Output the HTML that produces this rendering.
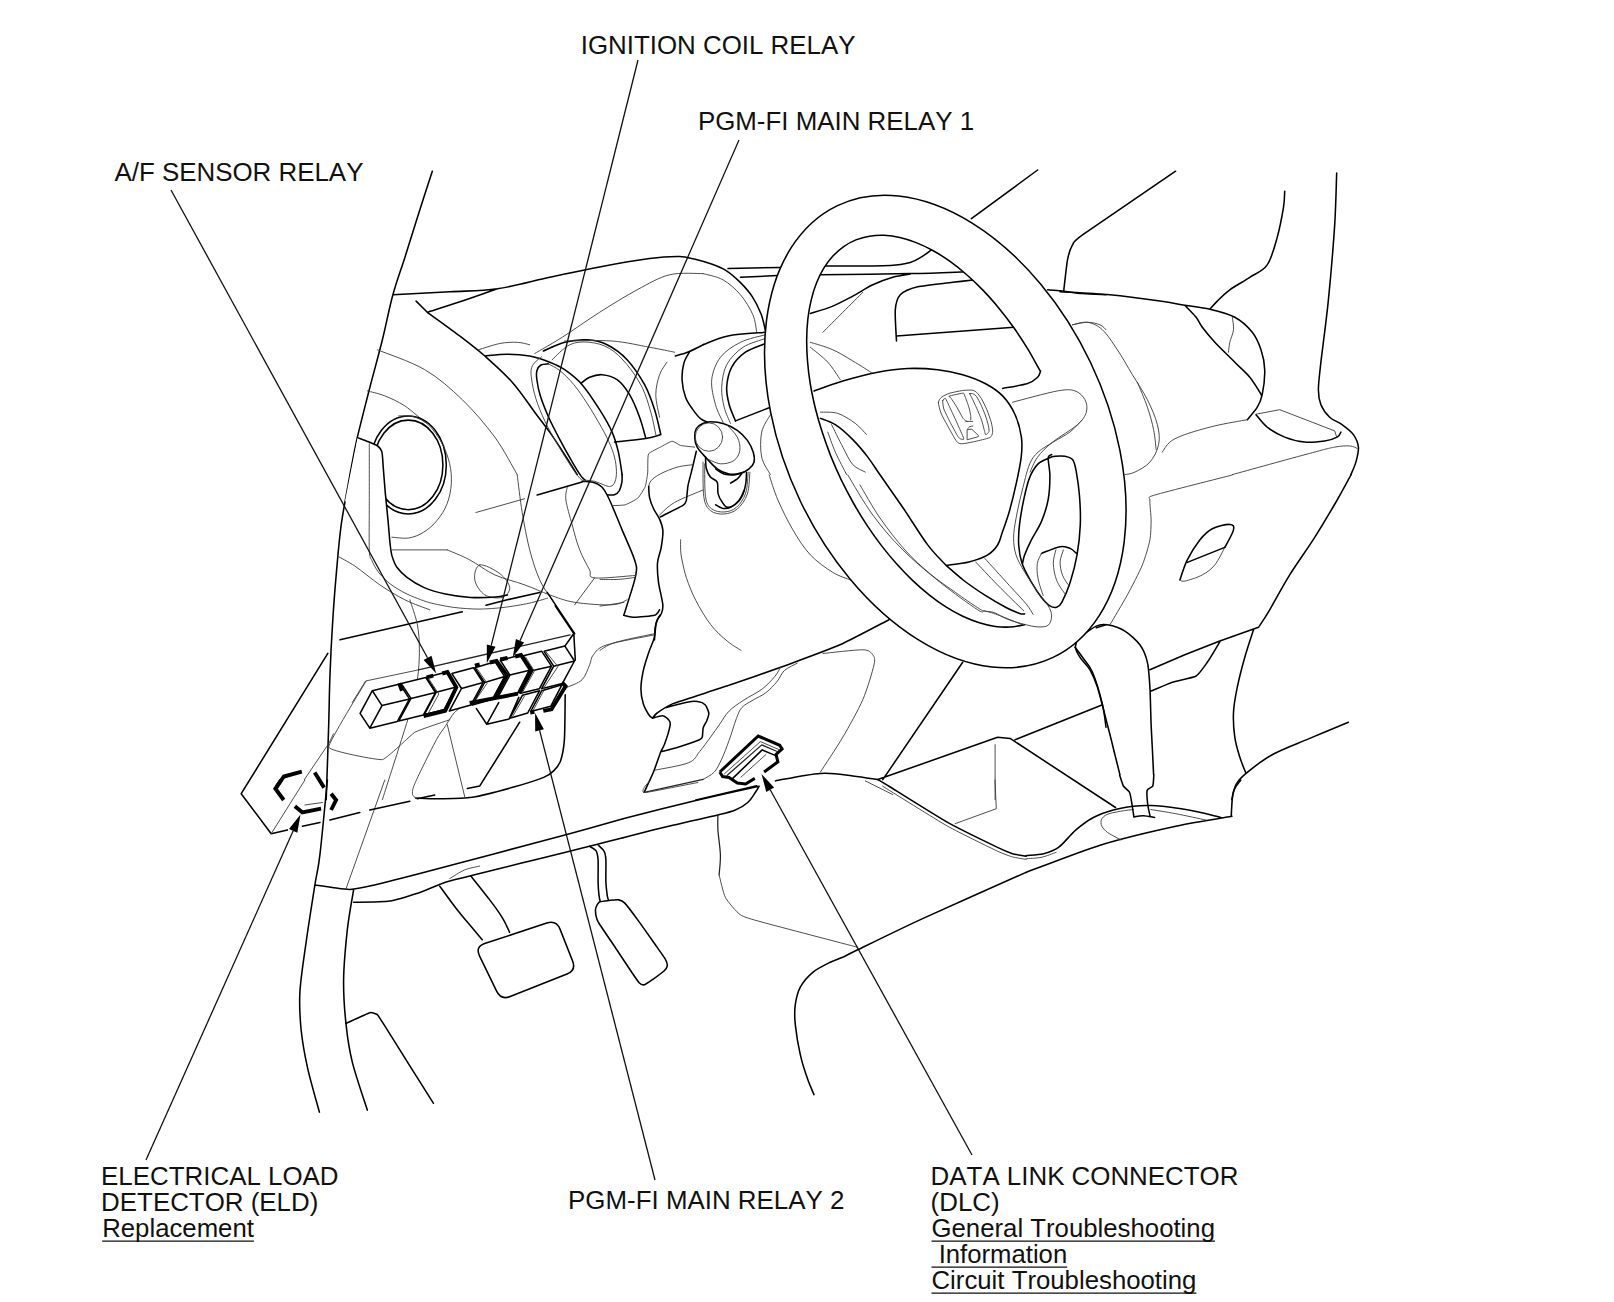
<!DOCTYPE html>
<html><head><meta charset="utf-8">
<style>
html,body{margin:0;padding:0;background:#fff;}
body{width:1614px;height:1302px;overflow:hidden;position:relative;font-family:"Liberation Sans",sans-serif;}
svg{position:absolute;left:0;top:0;}
text{font-family:"Liberation Sans",sans-serif;font-size:25.9px;fill:#111;font-kerning:none;}
.k{fill:none;stroke:#000;stroke-width:1.55;stroke-linecap:round;stroke-linejoin:round;}
.m{fill:none;stroke:#222;stroke-width:1.25;stroke-linecap:round;stroke-linejoin:round;}
.t{fill:none;stroke:#3a3a3a;stroke-width:0.9;stroke-linecap:round;stroke-linejoin:round;}
.l{fill:none;stroke:#111;stroke-width:1.3;}
.b{fill:none;stroke:#000;stroke-width:3.9;stroke-linejoin:miter;}
.c{fill:none;stroke:#000;stroke-width:3;stroke-linejoin:miter;}
.w{fill:#fff;stroke:none;fill-rule:evenodd;}
.a{fill:#000;stroke:none;}
</style></head><body>
<svg width="1614" height="1302" viewBox="0 0 1614 1302">
<rect width="1614" height="1302" fill="#fff"/>
<g id="labels">
<text x="580.7" y="54">IGNITION COIL RELAY</text>
<text x="697.9" y="129.5">PGM-FI MAIN RELAY 1</text>
<text x="114.5" y="180.8">A/F SENSOR RELAY</text>
<text x="101.1" y="1184.6">ELECTRICAL LOAD</text>
<text x="101.1" y="1210.6">DETECTOR (ELD)</text>
<text x="102.2" y="1236.6" textLength="151.7" lengthAdjust="spacingAndGlyphs">Replacement</text>
<text x="568.1" y="1208.7">PGM-FI MAIN RELAY 2</text>
<text x="930.6" y="1184.6">DATA LINK CONNECTOR</text>
<text x="930.6" y="1210.6">(DLC)</text>
<text x="931.5" y="1236.6" textLength="283.5" lengthAdjust="spacingAndGlyphs">General Troubleshooting</text>
<text x="931.5" y="1262.6" textLength="135.7" lengthAdjust="spacingAndGlyphs" xml:space="preserve"> Information</text>
<text x="931.5" y="1288.6" textLength="264.9" lengthAdjust="spacingAndGlyphs">Circuit Troubleshooting</text>
<path d="M102.2 1241.2H253.9M931.5 1241.2H1215M931.5 1267.2H1067.2M931.5 1293.2H1196.4" stroke="#111" stroke-width="1.3" fill="none"/>
</g>
<g class="k">
<path d="M432.3 171.2C429.8 178.9 421.9 203.1 417.4 217.4C412.8 231.8 408.9 244.5 404.9 257.4C400.8 270.3 396.6 281.1 392.9 294.8C389.1 308.6 386.2 324.4 382.4 339.8C378.6 355.2 374.1 371.0 369.9 387.2C365.8 403.4 360.8 422.6 357.4 437.1C354.1 451.7 351.2 468.4 349.9 474.6M392.9 294.8C402.4 294.3 432.4 292.8 449.8 291.8C467.2 290.8 480.6 291.2 497.3 288.8C513.9 286.4 532.6 281.0 549.7 277.3C566.7 273.7 583.0 270.0 599.6 266.9C616.3 263.7 636.3 260.2 649.6 258.5C662.8 256.8 671.8 256.5 679.3 256.6C686.7 256.7 688.9 257.9 694.3 259.1C699.6 260.4 706.1 262.2 711.5 264.1C716.9 266.1 721.7 267.9 726.5 270.8C731.2 273.8 735.6 277.8 740.0 282.1C744.3 286.4 748.9 291.4 752.4 296.8C756.0 302.2 759.0 308.7 761.2 314.3C763.3 319.9 764.7 327.7 765.4 330.4M416.1 301.1L427.3 312.3M427.3 312.3C433.2 310.4 450.6 305.0 462.3 301.1C473.9 297.1 491.4 290.9 497.3 288.8M427.3 312.3C432.8 316.3 450.2 328.7 459.8 336.0C469.4 343.3 476.0 348.3 484.8 356.0C493.5 363.7 503.9 372.8 512.2 382.2C520.6 391.6 528.5 403.8 534.7 412.2C540.9 420.5 544.7 425.1 549.7 432.1C554.7 439.2 560.1 447.5 564.7 454.6C569.2 461.7 575.1 471.3 577.2 474.6M484.8 356.0C488.5 355.7 499.8 354.2 507.2 354.2C514.7 354.2 522.6 354.7 529.7 356.0C536.8 357.3 543.9 359.9 549.7 362.2C555.5 364.5 559.3 366.0 564.7 369.7C570.1 373.5 576.3 378.0 582.1 384.7C588.0 391.4 594.6 401.8 599.6 409.7C604.6 417.6 609.0 425.1 612.1 432.1C615.2 439.2 616.7 445.0 618.4 452.1C620.0 459.2 621.5 470.8 622.1 474.6M543.4 351.0C547.0 349.5 557.4 344.1 564.7 342.3C572.0 340.4 580.1 339.3 587.1 339.8C594.2 340.2 600.5 341.4 607.1 344.8C613.8 348.1 620.8 353.1 627.1 359.7C633.3 366.4 640.0 376.4 644.6 384.7C649.1 393.0 651.9 401.4 654.6 409.7C657.3 418.0 659.8 430.5 660.8 434.6M660.8 434.6C658.3 435.3 653.5 437.1 645.8 438.4C638.1 439.6 619.8 441.5 614.6 442.1M580.9 383.5C582.4 382.4 586.1 378.7 589.6 377.2C593.2 375.8 597.5 374.3 602.1 374.7C606.7 375.1 612.5 376.4 617.1 379.7C621.7 383.0 625.8 388.5 629.6 394.7C633.3 400.9 636.9 409.9 639.6 417.2C642.3 424.4 644.8 434.9 645.8 438.4"/>
</g>
<g class="t">
<path d="M377.4 349.8C385.3 353.1 410.7 361.4 424.8 369.7C439.0 378.0 450.6 388.5 462.3 399.7C473.9 410.9 485.6 424.7 494.8 437.1C503.9 449.6 513.5 468.4 517.2 474.6M367.4 390.9C370.3 391.8 378.7 393.4 384.9 395.9C391.1 398.4 398.2 401.6 404.9 405.9C411.5 410.3 421.5 419.5 424.8 422.2M703.0 273.6C697.4 273.8 680.5 272.1 669.5 274.8C658.6 277.5 648.7 283.6 637.1 289.8C625.4 296.1 612.1 304.4 599.6 312.3C587.1 320.2 573.0 330.4 562.2 337.3C551.4 344.1 539.3 350.8 534.7 353.5M478.5 349.8C482.1 348.7 493.3 344.8 499.8 343.5C506.2 342.3 512.2 342.1 517.2 342.3C522.2 342.5 527.6 344.3 529.7 344.8M564.7 341.0C572.6 341.0 598.0 340.0 612.1 341.0C626.3 342.1 639.2 345.4 649.6 347.3C660.0 349.1 670.4 351.4 674.5 352.2M552.2 359.7C555.1 357.2 563.4 347.7 569.7 344.8C575.9 341.8 583.0 341.6 589.6 342.3C596.3 342.9 603.4 344.8 609.6 348.5C615.9 352.2 621.7 358.3 627.1 364.7C632.5 371.2 638.1 379.3 642.1 387.2C646.0 395.1 648.5 404.3 650.8 412.2C653.1 420.1 655.0 430.9 655.8 434.6M667.0 362.2C665.8 364.3 661.4 369.3 659.6 374.7C657.7 380.1 655.8 387.6 655.8 394.7C655.8 401.8 658.9 413.4 659.6 417.2"/>
</g>
<g class="k">
<path d="M728.0 268.6L780.9 267.4M825.3 266.1C836.2 266.0 876.1 266.0 890.3 265.4C904.4 264.7 904.8 263.9 910.2 262.4C915.7 260.8 919.2 258.2 922.7 256.1C926.3 254.0 930.0 250.9 931.5 249.9M740.5 277.3L777.9 275.6M820.4 274.8C835.3 274.6 886.1 274.1 910.2 273.6C934.4 273.1 956.0 272.1 965.2 271.8M910.2 274.1C907.3 274.6 899.0 275.6 892.8 277.3C886.5 279.1 879.4 281.7 872.8 284.8C866.1 288.0 859.5 292.5 852.8 296.1C846.2 299.6 839.9 303.1 832.8 306.1C825.8 309.0 814.1 312.3 810.4 313.5"/>
</g>
<g class="t">
<path d="M846.6 238.6L827.8 258.6M862.8 292.3C859.5 295.7 849.5 305.6 842.8 312.3C836.2 319.0 826.2 328.9 822.9 332.3"/>
</g>
<g class="k">
<path d="M896.5 341.0C896.3 336.8 894.8 316.0 895.3 309.8C895.8 303.6 897.3 297.9 900.3 294.8C903.2 291.8 910.7 288.5 917.7 286.8C924.7 285.2 945.0 283.3 952.7 282.3C960.3 281.4 972.2 280.2 975.2 279.8M896.5 336.0L1013.9 327.3"/>
</g>
<g class="t">
<path d="M810.4 342.3C814.1 343.5 825.8 346.6 832.8 349.8C839.9 352.9 846.2 357.0 852.8 361.0C859.5 364.9 869.5 371.4 872.8 373.5M810.4 347.3C813.3 349.8 822.9 356.8 827.8 362.2C832.8 367.6 838.2 376.8 840.3 379.7M703.0 273.6C706.3 274.6 716.7 276.3 723.0 279.8C729.2 283.4 735.5 289.0 740.5 294.8C745.4 300.6 750.2 308.6 752.9 314.8C755.6 321.0 756.1 329.4 756.7 332.3"/>
</g>
<g class="k">
<path d="M703.0 344.8C707.2 343.3 717.6 338.1 728.0 336.0C738.4 333.9 759.2 332.9 765.4 332.3"/>
</g>
<g class="t">
<path d="M765.4 334.8C761.3 336.0 747.9 338.5 740.5 342.3C733.0 346.0 725.3 351.0 720.5 357.2C715.7 363.5 712.6 371.8 711.7 379.7C710.9 387.6 713.6 397.6 715.5 404.7C717.4 411.8 721.7 419.2 723.0 422.2"/>
</g>
<g class="k">
<path d="M765.4 343.5C762.1 345.0 751.1 348.3 745.4 352.2C739.8 356.2 734.8 361.4 731.7 367.2C728.6 373.1 727.1 381.0 726.7 387.2C726.3 393.4 727.8 399.1 729.2 404.7C730.7 410.3 734.4 418.2 735.5 420.9"/>
</g>
<g class="t">
<path d="M765.4 338.5C761.7 340.0 749.4 342.9 743.0 347.3C736.5 351.6 730.3 358.1 726.7 364.7C723.2 371.4 722.1 380.1 721.7 387.2C721.3 394.3 722.8 401.1 724.2 407.2C725.7 413.2 729.4 420.7 730.5 423.4"/>
</g>
<g class="k">
<path d="M735.5 420.9L770.4 407.2"/>
</g>
<g class="t">
<path d="M770.4 414.7C769.0 417.6 763.1 425.1 761.7 432.1C760.2 439.2 760.2 450.0 761.7 457.1C763.1 464.2 769.0 471.7 770.4 474.6M820.4 412.2C823.3 412.4 832.0 411.5 837.8 413.4C843.7 415.3 850.5 419.9 855.3 423.4C860.1 426.9 864.7 432.8 866.5 434.6M827.8 432.1C829.1 435.5 832.2 445.0 835.3 452.1C838.5 459.2 844.7 470.8 846.6 474.6M831.6 424.7C833.5 428.4 839.3 440.5 842.8 447.1C846.4 453.8 849.1 460.4 852.8 464.6C856.6 468.8 863.2 470.8 865.3 472.1"/>
</g>
<g class="k">
<path d="M1037.6 170.0L971.4 218.7M1047.6 289.8C1050.1 290.0 1056.7 290.4 1062.6 291.1C1068.4 291.7 1075.3 292.9 1082.5 293.6C1089.8 294.2 1102.1 294.6 1106.0 294.8"/>
</g>
<g class="t">
<path d="M1072.5 324.8C1075.0 324.4 1082.9 322.3 1087.5 322.3C1092.1 322.3 1096.9 323.5 1100.0 324.8C1103.1 326.0 1105.0 328.9 1106.0 329.8M769.2 475.0C770.6 479.2 774.0 490.8 777.9 500.0C781.9 509.1 787.5 520.8 792.9 529.9C798.3 539.1 803.7 547.8 810.4 554.9C817.0 562.0 826.2 568.2 832.8 572.4C839.5 576.5 847.4 578.6 850.3 579.9M822.9 653.5C828.2 653.0 856.1 649.6 862.8 649.8C869.5 649.9 871.3 652.8 872.8 654.8C874.3 656.8 875.4 658.8 874.0 664.8C872.7 670.8 867.0 690.1 862.8 699.7C858.6 709.4 848.5 727.5 842.8 737.2C837.2 746.8 823.3 767.5 820.4 772.1"/>
</g>
<g class="k">
<path d="M775.4 780.9C782.9 779.6 807.5 774.2 820.4 773.4C833.3 772.5 843.2 774.8 852.8 775.9C862.4 776.9 873.6 779.0 877.8 779.6M877.8 779.6L997.6 737.2L1010.1 738.4L1115.5 807.5M1015.1 739.7L1102.5 704.7M1106.0 727.2C1105.4 723.4 1104.7 713.9 1102.5 704.7C1100.3 695.6 1095.8 680.2 1092.5 672.3C1089.2 664.3 1085.4 661.4 1082.5 657.3C1079.6 653.1 1076.3 648.9 1075.0 647.3M962.7 662.3L882.8 779.6"/>
</g>
<g class="t">
<path d="M995.1 744.7L995.1 799.6M865.3 780.9L892.8 794.6"/>
</g>
<g class="k">
<path d="M1106.0 624.8L1096.3 627.8"/>
</g>
<g class="t">
<path d="M847.8 475.0C852.0 481.7 863.6 502.5 872.8 515.0C881.9 527.4 891.5 538.7 902.8 549.9C914.0 561.1 927.7 572.4 940.2 582.4C952.7 592.4 970.2 605.0 977.7 609.8C985.1 614.6 981.8 610.2 985.1 611.1C988.5 611.9 991.4 612.5 997.6 614.8C1003.9 617.1 1018.4 623.1 1022.6 624.8"/>
</g>
<g class="k">
<path d="M1175.6 171.2C1166.3 177.6 1092.8 227.5 1082.5 234.9C1072.2 242.3 1074.0 242.4 1072.5 244.9C1071.0 247.4 1068.4 255.2 1067.5 259.9C1066.6 264.5 1064.1 288.0 1063.7 291.1M1060.0 291.8C1068.3 292.3 1093.3 293.3 1109.9 294.8C1126.6 296.4 1147.4 299.3 1159.9 301.1C1172.4 302.8 1176.5 303.9 1184.8 305.3C1193.2 306.7 1201.5 307.3 1209.8 309.3C1218.1 311.3 1227.7 313.5 1234.8 317.3C1241.9 321.1 1247.9 326.9 1252.3 332.3C1256.6 337.7 1258.9 343.5 1261.0 349.8C1263.1 356.0 1264.5 362.2 1264.7 369.7C1265.0 377.2 1263.5 388.5 1262.2 394.7C1261.0 400.9 1259.8 403.0 1257.3 407.2C1254.8 411.3 1248.9 417.6 1247.3 419.7M1184.8 305.3C1186.7 307.3 1193.2 313.6 1196.1 317.3C1199.0 321.0 1199.2 323.1 1202.3 327.3C1205.4 331.4 1209.4 336.4 1214.8 342.3C1220.2 348.1 1229.0 356.4 1234.8 362.2C1240.6 368.1 1245.6 372.2 1249.8 377.2C1253.9 382.2 1257.8 389.1 1259.8 392.2C1261.7 395.3 1261.4 395.3 1261.7 395.9"/>
</g>
<g class="t">
<path d="M1232.3 317.3C1232.5 319.4 1233.9 325.6 1233.5 329.8C1233.1 333.9 1230.6 338.5 1229.8 342.3C1229.0 346.0 1228.7 350.6 1228.5 352.2"/>
</g>
<g class="k">
<path d="M1284.7 191.2C1284.5 193.9 1284.7 199.7 1283.5 207.4C1282.2 215.1 1279.9 227.8 1277.2 237.4C1274.5 247.0 1271.8 258.2 1267.2 264.9C1262.7 271.5 1256.0 273.2 1249.8 277.3C1243.5 281.5 1235.2 285.9 1229.8 289.8C1224.4 293.8 1220.6 297.8 1217.3 301.1C1214.0 304.3 1211.1 307.9 1209.8 309.3M1336.7 173.0C1336.3 181.6 1336.0 203.8 1334.7 224.9C1333.3 246.0 1330.7 276.9 1328.4 299.8C1326.1 322.7 1322.6 347.3 1320.9 362.2C1319.3 377.2 1318.4 382.6 1318.4 389.7C1318.4 396.8 1319.1 400.1 1320.9 404.7C1322.8 409.3 1326.1 413.8 1329.7 417.2C1333.2 420.5 1338.2 421.7 1342.1 424.7C1346.1 427.6 1350.7 430.9 1353.4 434.6C1356.1 438.4 1358.0 442.6 1358.4 447.1C1358.8 451.7 1357.1 457.5 1355.9 462.1C1354.6 466.7 1351.7 472.5 1350.9 474.6M1256.0 414.7C1257.9 416.7 1262.5 423.4 1267.2 427.2C1272.0 430.9 1278.5 434.6 1284.7 437.1C1291.0 439.6 1298.0 441.5 1304.7 442.1C1311.4 442.8 1319.3 441.7 1324.7 440.9C1330.1 440.1 1334.4 438.6 1337.2 437.1C1339.9 435.7 1340.3 433.0 1340.9 432.1"/>
</g>
<g class="t">
<path d="M1256.0 414.2L1279.7 409.7L1334.7 430.9L1336.7 437.1M1247.3 419.7C1241.9 420.7 1225.2 423.4 1214.8 425.9C1204.4 428.4 1192.3 431.9 1184.8 434.6C1177.4 437.3 1173.6 439.2 1169.9 442.1C1166.1 445.0 1163.6 450.5 1162.4 452.1M1232.3 474.6C1245.2 471.1 1292.6 457.9 1309.7 453.4C1326.7 448.8 1328.0 448.4 1334.7 447.1C1341.3 445.9 1345.9 445.7 1349.6 445.9C1353.4 446.1 1355.9 448.0 1357.1 448.4M1072.5 324.8C1075.0 324.4 1082.5 321.5 1087.5 322.3C1092.5 323.1 1097.5 325.2 1102.4 329.8C1107.4 334.4 1112.4 342.3 1117.4 349.8C1122.4 357.2 1127.4 366.4 1132.4 374.7C1137.4 383.0 1143.2 391.4 1147.4 399.7C1151.6 408.0 1155.5 417.2 1157.4 424.7C1159.3 432.1 1159.9 438.4 1158.6 444.6C1157.4 450.9 1153.8 457.5 1149.9 462.1C1145.9 466.7 1139.1 470.0 1134.9 472.1C1130.7 474.2 1126.6 474.2 1124.9 474.6M1137.4 382.2C1139.1 386.4 1144.7 399.3 1147.4 407.2C1150.1 415.1 1152.2 422.6 1153.6 429.7C1155.1 436.7 1155.7 446.3 1156.1 449.6"/>
</g>
<g class="k">
<path d="M1350.9 475.0C1348.6 479.2 1343.2 489.6 1337.2 500.0C1331.1 510.4 1322.6 524.9 1314.7 537.4C1306.8 549.9 1297.2 562.8 1289.7 574.9C1282.2 586.9 1274.9 601.1 1269.7 609.8C1264.5 618.6 1260.4 624.4 1258.5 627.3M1258.5 627.3L1219.8 641.0L1184.8 654.8L1149.9 669.8M1253.5 629.8C1252.1 634.4 1247.5 647.7 1244.8 657.3C1242.1 666.8 1239.2 678.1 1237.3 687.2C1235.4 696.4 1233.9 703.9 1233.5 712.2C1233.1 720.5 1233.7 729.7 1234.8 737.2C1235.8 744.7 1237.9 751.1 1239.8 757.1C1241.6 763.2 1245.0 770.7 1246.0 773.4M1231.8 799.6C1232.5 797.1 1233.7 789.0 1236.0 784.6C1238.4 780.2 1240.0 778.4 1246.0 773.4C1252.1 768.4 1261.6 760.5 1272.2 754.7C1282.8 748.8 1297.0 743.8 1309.7 738.4C1322.4 733.0 1341.9 724.9 1348.4 722.2M1219.8 641.8C1218.8 643.5 1209.3 659.4 1207.3 662.3C1205.3 665.1 1199.0 674.3 1196.1 676.0C1193.2 677.7 1176.1 681.0 1172.4 682.2C1168.6 683.5 1152.9 690.3 1151.1 691.0M1119.9 774.6C1119.3 772.0 1116.6 761.3 1114.9 754.7C1113.3 748.0 1109.8 733.7 1107.4 724.7C1105.1 715.7 1099.8 694.6 1097.5 687.2C1095.1 679.9 1092.3 673.8 1090.0 669.8C1087.6 665.8 1081.9 660.3 1080.0 657.3C1078.0 654.3 1075.6 649.8 1075.5 647.3C1075.3 644.8 1076.0 641.4 1078.7 638.5C1081.5 635.7 1092.4 627.9 1096.2 626.1C1100.0 624.2 1103.6 624.1 1107.4 624.8C1111.3 625.5 1120.6 628.4 1124.9 631.1C1129.2 633.7 1136.9 640.6 1139.9 644.8C1142.9 648.9 1146.1 656.6 1147.4 662.3C1148.7 667.9 1149.4 678.9 1149.9 687.2C1150.4 695.6 1150.8 716.4 1151.1 724.7C1151.5 733.0 1152.1 743.0 1152.4 749.7C1152.7 756.3 1153.5 771.3 1153.6 774.6"/>
</g>
<g class="t">
<path d="M1232.3 475.0C1223.3 477.3 1164.5 492.1 1154.9 495.0C1145.3 497.9 1150.3 497.1 1149.9 500.0C1149.5 502.9 1151.1 515.3 1151.1 519.9C1151.1 524.6 1150.9 534.7 1149.9 539.9C1148.9 545.2 1145.0 558.5 1142.4 564.9C1139.8 571.3 1131.2 587.9 1127.4 594.9C1123.6 601.8 1112.0 621.3 1109.9 624.8"/>
</g>
<g class="k">
<path d="M1179.9 579.9C1181.1 576.5 1184.0 566.6 1187.3 559.9C1190.7 553.2 1195.7 545.1 1199.8 539.9C1204.0 534.7 1207.3 531.3 1212.3 528.7C1217.3 526.1 1226.3 524.2 1229.8 524.4C1233.3 524.6 1234.4 526.1 1233.5 529.9C1232.7 533.8 1226.3 544.5 1224.8 547.4"/>
</g>
<g class="t">
<path d="M1224.8 547.4C1223.1 550.3 1218.6 560.3 1214.8 564.9C1211.1 569.5 1207.3 572.2 1202.3 574.9C1197.3 577.6 1188.6 580.3 1184.8 581.1C1181.1 581.9 1180.7 580.1 1179.9 579.9"/>
</g>
<g class="k">
<path d="M1187.3 562.4L1224.8 547.4"/>
</g>
<g class="w">
<path d="M837.5 205.6L850.6 200.4L864.4 197.0L878.8 195.4L893.7 195.5L909.0 197.5L924.5 201.2L940.3 206.7L956.0 214.0L971.7 222.8L987.2 233.3L1002.3 245.2L1017.1 258.6L1031.3 273.3L1044.8 289.2L1057.6 306.2L1069.5 324.1L1080.4 342.9L1090.4 362.3L1099.2 382.2L1106.9 402.6L1113.3 423.1L1118.5 443.7L1122.3 464.3L1124.8 484.5L1126.0 504.4L1125.7 523.7L1124.1 542.3L1121.1 560.1L1116.8 576.9L1111.2 592.5L1104.3 607.0L1096.2 620.1L1086.9 631.8L1076.6 642.0L1065.3 650.5L1053.1 657.4L1040.0 662.6L1026.2 666.0L1011.8 667.6L996.9 667.5L981.6 665.5L966.1 661.8L950.3 656.3L934.6 649.0L918.9 640.2L903.4 629.7L888.3 617.8L873.5 604.4L859.3 589.7L845.8 573.8L833.0 556.8L821.1 538.9L810.2 520.1L800.2 500.7L791.4 480.8L783.7 460.4L777.3 439.9L772.1 419.3L768.3 398.7L765.8 378.5L764.6 358.6L764.9 339.3L766.5 320.7L769.5 302.9L773.8 286.1L779.4 270.5L786.3 256.0L794.4 242.9L803.7 231.2L814.0 221.0L825.3 212.5ZM852.3 241.5L861.6 238.0L871.4 235.9L881.8 235.3L892.7 236.2L904.0 238.5L915.6 242.4L927.4 247.6L939.3 254.3L951.2 262.3L963.1 271.6L974.9 282.2L986.4 293.8L997.5 306.5L1008.3 320.2L1018.6 334.6L1028.3 349.9L1037.3 365.7L1045.7 382.1L1053.3 398.8L1060.0 415.7L1065.8 432.8L1070.8 449.9L1074.7 466.8L1077.7 483.5L1079.6 499.7L1080.5 515.5L1080.3 530.6L1079.2 544.9L1076.9 558.4L1073.7 570.9L1069.5 582.3L1064.3 592.6L1058.2 601.7L1051.2 609.5L1043.4 615.9L1034.9 620.9L1025.6 624.4L1015.8 626.5L1005.4 627.1L994.5 626.2L983.2 623.9L971.6 620.0L959.8 614.8L947.9 608.1L936.0 600.1L924.1 590.8L912.3 580.2L900.8 568.6L889.7 555.9L878.9 542.2L868.6 527.8L858.9 512.5L849.9 496.7L841.5 480.3L833.9 463.6L827.2 446.7L821.4 429.6L816.4 412.5L812.5 395.6L809.5 378.9L807.6 362.7L806.7 346.9L806.9 331.8L808.0 317.5L810.3 304.0L813.5 291.5L817.7 280.1L822.9 269.8L829.0 260.7L836.0 252.9L843.8 246.5Z"/>
</g>
<g class="k">
<path d="M1024.6 624.7C1022.2 625.1 1015.3 626.8 1010.4 627.0C1005.5 627.3 1000.4 627.1 995.2 626.4C990.0 625.6 984.7 624.4 979.3 622.7C973.8 621.0 968.3 618.8 962.7 616.2C957.2 613.5 951.5 610.4 945.9 606.8C940.3 603.3 934.7 599.3 929.1 594.8C923.5 590.4 917.9 585.6 912.5 580.4C907.0 575.2 901.6 569.5 896.3 563.6C891.0 557.7 885.9 551.4 880.9 544.9C875.9 538.3 871.0 531.5 866.4 524.4C861.8 517.3 857.3 510.0 853.1 502.5C848.9 495.0 844.9 487.3 841.1 479.6C837.4 471.8 833.9 463.8 830.7 455.9C827.6 447.9 824.7 439.8 822.1 431.8C819.5 423.8 817.2 415.7 815.2 407.7C813.3 399.7 811.6 391.8 810.3 384.0C809.0 376.2 808.1 368.5 807.5 361.0C806.9 353.5 806.6 346.1 806.7 339.0C806.7 331.9 807.2 325.0 807.9 318.5C808.7 311.9 809.8 305.6 811.3 299.6C812.7 293.7 814.5 288.0 816.6 282.8C818.7 277.6 821.1 272.6 823.8 268.2C826.6 263.7 829.6 259.7 832.9 256.1C836.2 252.5 839.8 249.3 843.7 246.6C847.5 243.9 851.6 241.7 855.9 239.9C860.2 238.2 864.8 236.9 869.5 236.2C874.2 235.4 879.2 235.1 884.2 235.3C889.3 235.6 894.5 236.3 899.8 237.5C905.2 238.7 910.6 240.4 916.1 242.6C921.6 244.7 927.2 247.4 932.8 250.5C938.4 253.6 944.1 257.2 949.7 261.2C955.3 265.2 960.9 269.7 966.4 274.5C972.0 279.3 977.5 284.5 982.9 290.1C988.2 295.7 993.6 301.6 998.7 307.9C1003.8 314.1 1008.9 320.7 1013.7 327.5C1018.5 334.3 1023.2 341.5 1027.6 348.7C1032.0 356.0 1038.1 367.5 1040.3 371.2M814.1 391.0C818.9 389.3 832.2 384.1 842.8 381.0C853.4 377.9 867.0 374.3 877.8 372.2C888.6 370.1 897.7 368.9 907.7 368.5C917.7 368.1 928.5 368.7 937.7 369.7C946.9 370.7 954.8 372.4 962.7 374.7C970.6 377.0 978.5 380.0 985.1 383.5C991.8 387.0 997.6 390.7 1002.6 395.9C1007.6 401.1 1012.0 407.8 1015.1 414.7C1018.2 421.6 1020.4 430.0 1021.4 437.1C1022.4 444.2 1022.1 449.4 1021.2 457.2C1020.3 465.0 1018.1 475.2 1016.1 484.2C1014.1 493.2 1011.6 503.3 1009.4 511.2C1007.1 519.1 1004.6 525.9 1002.6 531.5C1000.6 537.1 1000.1 541.1 997.6 545.0C995.1 548.9 992.2 552.3 987.4 555.1C982.6 557.9 975.8 560.2 968.9 561.9C962.0 563.6 949.8 564.7 946.0 565.3M820.4 418.4C822.9 419.4 829.9 421.2 835.3 424.7C840.7 428.2 847.4 434.2 852.8 439.6C858.2 445.0 863.3 451.2 867.8 457.1C872.3 463.0 874.2 466.4 880.0 474.8C885.8 483.2 894.8 495.8 902.8 507.5C910.8 519.2 920.5 535.3 927.7 544.9C934.9 554.5 943.0 561.9 946.0 565.3M1002.6 388.4C1006.8 387.6 1021.8 385.4 1027.6 383.5C1033.4 381.6 1035.4 379.3 1037.6 377.2C1039.8 375.1 1040.1 372.0 1040.6 371.0M946.0 565.3C949.0 567.8 957.2 575.4 963.8 580.5C970.4 585.6 978.7 591.2 985.7 595.7C992.7 600.2 1000.4 604.5 1006.0 607.5C1011.6 610.5 1016.4 612.3 1019.5 613.4C1022.6 614.5 1023.7 613.8 1024.6 613.9"/>
<ellipse cx="945.3" cy="431.5" rx="250.3" ry="160.8" transform="rotate(-115.5 945.3 431.5)"/>
</g>
<g class="t">
<path d="M975.6 561.9C979.3 565.8 989.6 576.8 997.6 585.0C1005.6 593.2 1019.4 606.6 1023.8 610.9M984.9 558.5C989.0 563.0 1002.5 577.9 1009.4 585.5C1016.3 593.1 1022.4 599.3 1026.3 604.1C1030.2 608.9 1031.9 612.6 1033.0 614.3"/>
</g>
<g class="k">
<path d="M1049.1 458.0C1046.3 459.3 1041.3 460.7 1038.1 463.9C1034.9 467.1 1032.1 471.5 1029.7 477.4C1027.3 483.3 1025.5 491.5 1023.8 499.4C1022.1 507.3 1020.4 517.1 1019.5 524.7C1018.6 532.3 1018.3 538.5 1018.7 545.0C1019.1 551.5 1020.0 557.4 1022.1 563.6C1024.2 569.8 1028.2 576.6 1031.4 582.2C1034.6 587.8 1038.4 593.5 1041.5 597.4C1044.6 601.3 1047.4 604.2 1049.9 605.8C1052.4 607.4 1054.7 607.8 1056.7 607.2C1058.7 606.6 1059.5 606.6 1061.8 602.4C1064.0 598.2 1067.7 590.1 1070.2 582.2C1072.7 574.3 1075.3 564.7 1077.0 555.1C1078.7 545.5 1079.9 534.6 1080.3 524.7C1080.7 514.9 1080.2 505.0 1079.5 496.0C1078.8 487.0 1077.2 476.8 1076.1 470.7C1075.0 464.6 1074.5 462.1 1072.7 459.7C1070.9 457.3 1068.0 456.9 1065.1 456.3C1062.1 455.7 1057.7 456.0 1055.0 456.3C1052.3 456.6 1051.9 456.7 1049.1 458.0ZM1051.6 454.6C1051.0 455.2 1048.5 454.5 1048.2 458.0C1047.9 461.5 1049.9 468.8 1049.9 475.7C1049.9 482.6 1049.6 491.8 1048.2 499.4C1046.8 507.0 1044.3 514.6 1041.5 521.4C1038.7 528.1 1034.2 534.3 1031.4 539.9C1028.6 545.5 1026.1 551.1 1024.6 555.1C1023.1 559.1 1022.9 562.2 1022.5 563.6M1041.5 553.4C1044.6 552.3 1055.3 547.5 1060.1 546.7C1064.9 545.9 1067.3 547.1 1070.2 548.4C1073.1 549.7 1076.1 553.3 1077.3 554.3"/>
</g>
<g class="t">
<path d="M1041.5 553.4C1040.8 555.1 1037.9 559.4 1037.3 563.6C1036.7 567.8 1037.1 573.4 1038.1 578.8C1039.1 584.1 1042.3 592.9 1043.2 595.7M1055.8 550.0C1055.4 552.3 1053.1 558.5 1053.3 563.6C1053.5 568.7 1054.7 575.4 1056.7 580.5C1058.7 585.6 1063.7 591.8 1065.1 594.0M1063.4 550.0C1062.9 552.0 1060.2 557.7 1060.1 561.9C1060.0 566.1 1061.0 571.3 1062.6 575.4C1064.1 579.5 1068.3 584.6 1069.4 586.4M1082.0 420.0C1080.0 422.0 1075.0 428.1 1070.2 431.8C1065.4 435.5 1058.7 438.6 1053.3 442.0C1047.9 445.4 1042.0 448.5 1038.1 452.1C1034.2 455.8 1032.2 458.0 1029.7 463.9C1027.2 469.8 1025.2 478.6 1022.9 487.6C1020.6 496.6 1017.6 509.6 1016.1 518.0C1014.6 526.4 1013.6 532.0 1013.6 538.2C1013.6 544.4 1014.3 549.5 1016.1 555.1C1017.9 560.7 1020.9 565.8 1024.6 572.0C1028.3 578.2 1034.2 586.7 1038.1 592.3C1042.0 597.9 1046.0 601.9 1048.2 605.8C1050.5 609.7 1051.6 612.7 1051.6 615.9C1051.6 619.1 1050.5 623.4 1048.2 625.2C1046.0 627.0 1042.0 627.0 1038.1 626.9C1034.2 626.8 1029.7 625.7 1024.6 624.4C1019.5 623.1 1012.8 621.3 1007.7 619.3C1002.6 617.3 998.1 614.0 994.2 612.6C990.3 611.2 986.9 611.8 984.1 610.9C981.3 610.0 982.1 610.6 977.3 607.5C972.5 604.4 963.2 597.9 955.3 592.3C947.4 586.7 938.4 580.8 930.0 573.7C921.6 566.7 913.3 559.3 905.0 550.0C896.7 540.7 887.5 528.8 880.0 518.0C872.5 507.2 863.3 490.5 860.0 485.0M1012.6 402.2C1020.1 400.3 1047.2 392.8 1057.6 390.9C1068.0 389.1 1070.5 389.5 1075.0 390.9C1079.6 392.4 1083.1 396.2 1085.0 399.7C1086.9 403.2 1087.5 408.0 1086.3 412.2C1085.0 416.3 1083.1 419.7 1077.5 424.7C1071.9 429.7 1059.2 436.7 1052.6 442.1C1045.9 447.5 1041.3 452.1 1037.6 457.1C1033.8 462.1 1031.3 469.6 1030.1 472.1M938.4 402.6C938.5 400.4 940.2 398.4 941.7 397.2C943.1 396.0 946.4 394.3 949.2 393.4C952.0 392.5 959.6 390.9 962.6 390.5C965.7 390.1 970.4 390.0 972.3 390.2C974.2 390.5 975.4 391.2 976.6 392.4C977.8 393.5 980.1 396.5 981.5 398.8C982.8 401.1 985.5 406.5 986.8 409.6C988.1 412.7 990.3 419.1 991.1 421.9C991.9 424.8 992.7 429.1 992.7 431.1C992.7 433.0 991.9 435.4 991.1 436.5C990.3 437.5 989.2 437.9 986.8 438.6C984.5 439.3 976.6 441.1 973.4 441.8C970.2 442.5 964.6 443.6 962.6 443.7C960.6 443.9 959.3 443.5 958.3 442.9C957.3 442.3 956.5 441.4 955.1 439.1C953.7 436.8 949.4 429.1 947.6 425.7C945.7 422.3 942.3 416.4 941.1 413.3C939.9 410.3 938.4 404.7 938.4 402.6ZM942.7 400.4C942.9 399.4 944.9 398.3 945.4 398.5C945.9 398.8 946.6 400.6 947.6 402.6C948.5 404.6 953.5 415.3 955.1 418.7C956.7 422.2 962.3 434.9 963.2 437.0C964.0 439.1 963.8 439.2 963.4 439.4C963.1 439.6 960.6 439.0 959.9 438.6C959.3 438.2 958.2 437.0 957.3 435.4C956.3 433.8 951.6 425.1 950.3 422.5C948.9 419.8 944.6 411.2 943.8 409.0C943.1 406.8 942.6 401.5 942.7 400.4ZM967.5 421.5C967.2 421.4 965.5 420.7 965.1 420.3C964.6 419.9 963.4 418.9 962.6 417.6C961.9 416.4 958.4 409.9 957.3 408.0C956.1 406.0 951.6 398.9 950.8 397.7C950.0 396.6 948.0 396.6 949.2 396.1C950.4 395.7 961.1 393.3 962.6 393.2C964.2 393.1 963.9 393.6 964.5 395.1C965.2 396.5 968.5 405.9 969.1 408.0C969.7 410.0 970.5 414.3 970.7 415.5C970.9 416.7 970.7 419.4 970.7 419.8M965.9 421.4L972.6 421.4M969.6 393.4C969.8 393.1 972.7 393.7 973.4 394.0C974.1 394.3 975.9 395.6 976.6 396.7C977.4 397.7 980.1 402.9 980.9 404.7C981.8 406.6 984.5 412.8 985.2 414.9C986.0 417.0 988.1 424.0 988.4 425.7C988.8 427.4 989.2 430.7 989.0 431.6C988.7 432.5 986.2 434.8 985.8 434.8C985.3 434.8 985.1 433.1 984.7 431.6C984.2 430.1 982.3 422.2 981.5 419.8C980.6 417.4 977.6 410.2 976.6 408.0C975.6 405.8 972.5 399.2 971.8 397.7C971.1 396.3 969.5 393.8 969.6 393.4ZM967.5 429.5L971.8 429.2L978.8 435.9L978.2 436.7L967.5 439.7ZM968.0 428.4C968.3 428.1 968.8 427.2 969.6 426.8C970.4 426.4 972.3 426.1 972.8 426.0"/>
</g>
<g class="k">
<path d="M349.9 475.0C348.5 483.3 343.5 508.3 341.2 524.9C338.9 541.6 337.7 558.2 336.2 574.9C334.7 591.5 333.5 608.2 332.5 624.8C331.4 641.5 330.6 658.1 330.0 674.8C329.3 691.4 329.3 703.9 328.7 724.7C328.1 745.5 326.6 787.1 326.2 799.6"/>
</g>
<g class="t">
<path d="M337.5 556.1C340.4 557.8 347.9 561.4 354.9 566.1C362.0 570.9 371.6 579.2 379.9 584.9C388.2 590.5 396.5 595.7 404.9 599.8C413.2 604.0 425.7 608.2 429.8 609.8M392.4 549.9L447.3 549.9M447.3 549.9C451.1 551.6 461.9 555.7 469.8 559.9C477.7 564.1 485.6 570.7 494.8 574.9C503.9 579.0 515.6 581.5 524.7 584.9C533.9 588.2 541.4 591.9 549.7 594.9C558.0 597.8 564.3 600.7 574.7 602.3C585.1 604.0 603.4 605.3 612.1 604.8C620.8 604.4 624.6 600.7 627.1 599.8M479.8 564.9C483.9 563.8 494.8 569.9 499.8 573.6C504.7 577.4 509.3 583.4 509.7 587.4C510.2 591.3 506.4 596.1 502.2 597.3C498.1 598.6 489.3 597.8 484.8 594.9C480.2 591.9 475.6 584.9 474.8 579.9C473.9 574.9 475.6 565.9 479.8 564.9Z"/>
</g>
<g class="k">
<path d="M340.0 639.8L462.3 611.8M486.0 605.3L507.2 599.8L539.7 592.4"/>
</g>
<g class="t">
<path d="M476.0 512.5L524.7 498.7"/>
</g>
<g class="k">
<path d="M537.2 495.0L582.1 482.0"/>
</g>
<g class="t">
<path d="M517.2 475.0C518.1 481.2 520.1 500.0 522.2 512.5C524.3 524.9 526.8 538.7 529.7 549.9C532.6 561.1 536.0 571.5 539.7 579.9C543.4 588.2 550.1 596.5 552.2 599.8"/>
</g>
<g class="k">
<path d="M582.1 481.2C584.6 481.7 593.0 481.5 597.1 483.7C601.3 486.0 603.0 487.3 607.1 495.0C611.3 502.7 617.5 519.1 622.1 529.9C626.7 540.8 632.3 552.4 634.6 559.9C636.9 567.4 637.1 567.4 635.8 574.9C634.6 582.4 629.1 598.1 627.1 604.8C625.1 611.6 624.4 613.6 623.8 615.3"/>
</g>
<g class="t">
<path d="M567.2 487.5C567.0 489.6 565.1 493.7 565.9 500.0C566.7 506.2 569.9 516.6 572.2 524.9C574.4 533.3 576.7 542.4 579.7 549.9C582.6 557.4 587.1 565.2 589.6 569.9C592.1 574.5 586.9 577.0 594.6 577.9C602.3 578.8 629.0 575.8 635.8 575.4M594.6 577.9L574.7 604.8"/>
</g>
<g class="k">
<path d="M623.8 615.3C624.9 615.5 631.5 617.3 634.6 617.3C637.7 617.3 652.1 616.1 654.6 615.3C657.1 614.6 659.1 610.4 659.6 609.8"/>
</g>
<g class="t">
<path d="M703.0 490.0C698.3 492.1 681.8 498.3 674.5 502.5C667.3 506.6 662.0 512.9 659.6 515.0"/>
</g>
<g class="k">
<path d="M574.7 633.6L547.2 592.4"/>
</g>
<g class="t">
<path d="M567.2 687.2C569.7 686.0 578.4 683.5 582.1 679.7C585.9 676.0 587.8 668.9 589.6 664.8C591.5 660.6 590.5 658.1 593.4 654.8C596.3 651.4 596.9 648.1 607.1 644.8C617.3 641.5 646.7 636.5 654.6 634.8"/>
</g>
<g class="k">
<path d="M565.2 694.7C565.1 700.7 565.0 730.7 564.4 739.4C563.8 748.2 562.1 756.2 560.7 760.4C559.3 764.6 556.2 768.4 553.9 770.6C551.7 772.9 549.1 775.2 543.7 777.4C538.3 779.6 523.3 784.4 513.7 787.1C504.2 789.8 482.2 795.8 472.3 797.3C462.4 798.9 447.1 798.7 439.6 798.8C432.0 798.9 418.8 798.2 415.6 798.1"/>
</g>
<g class="t">
<path d="M415.6 798.1C415.2 797.6 412.9 796.1 412.6 794.6C412.3 793.1 412.2 790.5 413.4 787.1C414.6 783.7 418.5 775.5 421.6 769.1C424.7 762.8 433.4 745.1 436.6 739.4C439.7 733.7 443.0 729.7 445.3 726.2C447.7 722.6 451.5 715.7 454.3 712.7C457.1 709.7 464.7 704.9 466.3 703.7"/>
</g>
<g class="k">
<path d="M519.7 722.2L479.8 785.9L467.3 788.4"/>
</g>
<g class="t">
<path d="M447.3 724.7L464.8 797.1M409.9 599.8C411.1 604.0 415.8 616.5 417.4 624.8C418.9 633.1 419.4 640.6 419.4 649.8C419.4 658.9 418.9 669.3 417.4 679.7C415.8 690.1 412.8 701.4 409.9 712.2C406.9 723.0 404.5 730.1 399.9 744.7C395.3 759.2 385.3 790.4 382.4 799.6M366.2 681.0C364.3 684.3 327.9 743.2 328.7 747.2C329.5 751.1 378.1 760.4 382.4 759.6C386.7 758.9 411.5 734.2 414.9 732.2C418.2 730.2 448.1 720.3 449.8 719.7"/>
</g>
<g class="k">
<ellipse cx="408.3" cy="464.9" rx="38.0" ry="49.0" transform="rotate(0.0 408.3 464.9)"/>
<ellipse cx="408.3" cy="464.9" rx="34.6" ry="44.8" transform="rotate(0.0 408.3 464.9)"/>
</g>
<g class="t">
<path d="M398.6 415.9C401.1 416.0 408.7 415.2 413.7 416.7C418.7 418.3 424.0 420.6 428.7 425.1C433.5 429.6 438.6 437.1 442.1 443.5C445.6 449.9 448.1 456.9 449.6 463.6C451.2 470.3 451.7 476.9 451.3 483.6C450.9 490.3 449.5 497.6 447.1 503.7C444.8 509.8 441.0 515.7 437.1 520.4C433.2 525.2 428.5 529.2 423.7 532.2C419.0 535.1 414.0 537.2 408.7 538.0C403.4 538.8 394.7 537.3 391.9 537.2"/>
</g>
<g class="w">
<path d="M357.6 437.6L368.5 441.8L377.7 446.0L381.9 451.9L383.2 466.9L385.2 492.0L387.7 517.1L389.9 542.2L370.2 550.6L345.1 500.4Z"/>
</g>
<g class="t">
<path d="M369.3 443.8C369.3 451.4 369.3 486.1 369.3 500.4C369.3 514.6 369.0 542.5 369.3 550.6C369.7 558.6 370.6 557.7 371.9 560.6C373.1 563.5 376.1 569.2 378.5 572.3C381.0 575.4 386.5 581.1 390.3 584.0C394.0 586.9 401.9 591.6 407.0 594.0C412.1 596.5 422.5 600.6 428.7 602.4C435.0 604.2 447.1 606.5 453.8 607.4C460.5 608.3 472.2 609.1 478.9 609.1C485.6 609.1 497.3 608.2 504.0 607.4C510.7 606.6 523.3 604.5 529.1 603.2C534.9 602.0 545.0 598.9 547.5 598.2"/>
</g>
<g class="k">
<path d="M357.6 437.6C359.1 438.2 365.8 440.7 368.5 441.8C371.2 442.9 375.9 444.7 377.7 446.0C379.5 447.3 381.2 449.1 381.9 451.9C382.6 454.6 382.8 461.6 383.2 466.9C383.7 472.3 384.6 485.3 385.2 492.0C385.8 498.7 387.1 510.4 387.7 517.1C388.4 523.8 389.4 537.1 389.9 542.2C390.5 547.3 391.0 552.2 391.9 555.6C392.9 558.9 394.9 564.4 396.9 567.3C399.0 570.2 403.4 574.6 407.0 577.3C410.6 580.0 418.6 585.1 423.7 587.4C428.8 589.6 439.2 592.7 445.5 594.0C451.7 595.4 463.9 597.0 470.6 597.4C477.2 597.8 490.7 597.4 495.6 597.1C500.6 596.7 505.8 595.2 507.4 594.9M703.9 344.4C701.4 345.6 693.5 349.8 688.8 351.7C684.1 353.7 677.7 355.2 675.4 355.9M689.6 351.7C688.7 353.7 685.0 358.7 683.8 363.5C682.5 368.2 681.8 374.6 682.1 380.2C682.4 385.8 683.8 392.2 685.5 396.9C687.1 401.7 689.6 405.0 692.2 408.6C694.7 412.2 697.9 416.4 700.5 418.7C703.2 420.9 706.8 421.7 708.0 422.3M622.1 474.5C622.0 475.8 622.3 479.5 621.9 482.2C621.4 484.9 620.6 488.5 619.4 490.6C618.1 492.7 616.3 494.1 614.4 494.8C612.4 495.5 608.8 494.8 607.7 494.8M548.4 363.8C547.2 364.0 542.9 363.8 540.9 365.0C539.0 366.1 537.6 368.2 536.9 370.7C536.2 373.2 536.3 375.7 536.9 380.0C537.5 384.2 538.4 389.9 540.4 396.1C542.3 402.2 545.2 409.5 548.4 416.8C551.7 424.1 556.1 432.6 560.0 439.9C563.8 447.2 568.0 454.6 571.5 460.6C574.9 466.6 578.4 472.3 580.7 475.6C583.0 478.8 584.5 479.4 585.3 480.2"/>
</g>
<g class="t">
<path d="M548.4 363.8C550.4 365.0 555.7 367.3 560.0 370.7C564.2 374.2 569.2 379.0 573.8 384.6C578.4 390.1 583.0 397.0 587.6 404.1C592.2 411.3 597.6 420.3 601.4 427.2C605.3 434.1 608.3 440.1 610.6 445.6C612.9 451.2 614.3 455.8 615.3 460.6C616.2 465.4 616.6 470.6 616.4 474.4C616.2 478.3 615.3 481.6 614.1 483.6C612.9 485.7 611.2 486.3 609.5 486.5C607.8 486.7 606.2 485.7 603.7 484.8C601.2 483.9 597.6 482.1 594.5 481.3C591.4 480.6 586.8 480.4 585.3 480.2M541.5 356.9C540.4 357.9 536.3 360.6 534.6 362.7C532.9 364.8 531.6 366.7 531.2 369.6C530.7 372.5 531.0 375.2 531.7 380.0C532.5 384.8 533.6 391.5 535.8 398.4C538.0 405.3 541.3 413.7 545.0 421.4C548.6 429.1 553.4 437.2 557.6 444.5C561.9 451.8 566.7 459.6 570.3 465.2C574.0 470.8 577.0 475.2 579.5 477.9C582.0 480.6 584.3 480.8 585.3 481.3"/>
</g>
<g class="k">
<path d="M694.7 437.1C694.5 434.0 695.1 430.9 696.3 428.7C697.6 426.5 699.8 424.8 702.2 423.7C704.6 422.5 706.9 421.7 710.6 421.7C714.2 421.7 719.5 422.2 723.9 423.7C728.4 425.1 733.4 427.6 737.3 430.4C741.2 433.2 744.7 436.8 747.4 440.4C750.0 444.0 752.1 448.5 753.2 452.1C754.3 455.7 754.7 459.4 754.0 462.2C753.3 464.9 751.3 467.0 749.0 468.8C746.8 470.7 744.0 472.2 740.7 473.0C737.3 473.9 732.9 474.6 729.0 473.9C725.0 473.2 721.1 471.6 717.2 468.8C713.3 466.1 708.9 460.8 705.5 457.1C702.2 453.5 699.0 450.4 697.2 447.1C695.4 443.8 694.8 440.1 694.7 437.1Z"/>
</g>
<g class="t">
<path d="M727.3 425.3C729.0 427.3 735.2 432.9 737.3 437.1C739.4 441.2 740.4 446.5 739.8 450.4C739.3 454.3 737.2 458.2 734.0 460.5C730.8 462.7 725.0 464.1 720.6 463.8C716.1 463.5 709.4 459.6 707.2 458.8"/>
<ellipse cx="708.9" cy="437.1" rx="13.7" ry="14.2" transform="rotate(0.0 708.9 437.1)"/>
</g>
<g class="k">
<path d="M705.5 457.1C705.7 459.1 705.5 465.5 706.4 468.8C707.2 472.2 708.7 475.0 710.6 477.2C712.4 479.4 716.0 479.4 717.2 482.2C718.5 485.0 717.2 490.6 718.1 493.9C718.9 497.3 720.7 500.1 722.3 502.3C723.8 504.5 725.0 507.0 727.3 507.3C729.5 507.6 733.1 505.9 735.6 504.0C738.2 502.0 740.7 499.0 742.3 495.6C744.0 492.3 745.0 487.8 745.7 483.9C746.4 480.0 746.4 474.1 746.5 472.2"/>
</g>
<g class="t">
<path d="M703.0 462.2C703.2 468.0 702.6 489.2 703.9 497.3C705.1 505.4 707.2 507.9 710.6 510.7C713.9 513.5 719.5 514.3 723.9 514.0C728.4 513.7 733.4 512.3 737.3 509.0C741.2 505.6 745.3 500.1 747.4 493.9C749.4 487.8 749.4 475.8 749.9 472.2M704.7 463.8C704.8 469.3 704.4 489.0 705.5 496.4C706.6 503.9 708.3 506.1 711.4 508.7C714.5 511.2 719.8 512.2 723.9 512.0C728.1 511.8 732.9 510.5 736.5 507.3C740.1 504.2 743.7 499.0 745.7 493.1C747.6 487.2 747.8 475.7 748.2 472.2"/>
</g>
<g class="k">
<path d="M715.6 468.8C717.0 469.7 720.6 472.9 723.9 473.9C727.3 474.8 732.3 475.0 735.6 474.7C739.0 474.4 742.6 472.6 744.0 472.2M730.6 483.1C731.7 482.4 735.5 480.4 737.3 478.9C739.1 477.3 740.8 474.7 741.5 473.9M715.6 504.8C716.7 505.4 719.8 507.7 722.3 508.2C724.8 508.6 727.8 508.6 730.6 507.3C733.4 506.1 736.8 503.4 739.0 500.6C741.2 497.8 743.2 492.3 744.0 490.6M696.3 451.3C695.9 453.0 693.0 465.4 692.2 468.8C691.3 472.3 688.6 482.4 688.0 485.6C687.4 488.7 686.8 498.7 686.3 500.6C685.8 502.6 685.5 503.7 683.0 505.3C680.4 506.9 662.6 515.8 660.4 517.0"/>
</g>
<g class="t">
<path d="M648.7 486.4C649.1 485.4 649.2 482.6 651.2 480.6C653.1 478.5 656.0 476.1 660.4 473.9C664.7 471.6 671.7 468.7 677.1 467.2C682.5 465.6 690.3 465.1 693.0 464.7"/>
</g>
<g class="k">
<path d="M648.7 486.4C648.8 488.2 648.7 493.5 649.5 497.3C650.3 501.0 652.0 505.4 653.7 509.0C655.3 512.6 658.0 515.4 659.5 519.0C661.1 522.7 662.6 526.0 662.9 530.7C663.2 535.5 662.1 542.1 661.2 547.5C660.3 552.8 658.0 557.2 657.5 562.9C657.1 568.5 657.7 575.6 658.4 581.3C659.0 586.9 660.6 592.5 661.4 596.6C662.1 600.8 662.9 603.2 662.9 606.0C662.9 608.8 662.3 611.3 661.4 613.5C660.5 615.8 658.6 617.4 657.5 619.7C656.5 622.0 655.7 624.1 655.2 627.4C654.7 630.8 654.6 637.9 654.5 640.0"/>
</g>
<g class="t">
<path d="M694.7 447.1C693.5 447.0 682.3 445.9 680.4 445.4C678.6 444.9 673.8 441.1 672.1 441.2C670.4 441.4 662.3 446.1 660.4 447.1C658.4 448.1 649.7 452.4 648.7 453.8C647.6 455.2 647.9 462.2 647.8 463.8C647.7 465.4 647.9 471.1 647.7 473.0C647.4 474.9 646.1 484.3 645.3 486.4C644.5 488.5 639.5 496.6 637.8 498.1C636.1 499.6 627.4 504.2 625.2 504.8C623.1 505.4 613.0 505.6 611.9 505.6"/>
</g>
<g class="k">
<path d="M659.9 615.3C659.3 616.5 657.1 619.0 656.2 622.7C655.3 626.4 655.6 632.5 654.4 637.4C653.1 642.3 650.7 646.6 648.8 652.2C647.0 657.7 644.6 664.5 643.3 670.6C642.0 676.7 640.9 683.5 640.9 689.0C640.9 694.6 642.0 699.5 643.3 703.8C644.6 708.1 647.3 712.4 648.8 714.8C650.4 717.2 651.9 717.6 652.5 718.2M652.5 718.2C653.0 717.6 655.0 714.5 657.1 713.0C659.3 711.5 666.5 706.2 673.7 703.4C680.9 700.6 718.0 689.1 729.0 685.3C740.1 681.6 773.2 670.0 784.3 666.0C795.4 661.9 829.5 649.4 840.0 644.8C850.5 640.2 884.1 622.2 889.0 619.7M666.4 707.5C668.9 706.8 684.8 702.6 688.5 701.9C692.1 701.2 695.8 701.2 697.7 701.6C699.6 701.9 703.8 703.4 705.1 704.7C706.4 706.0 708.5 711.2 708.8 713.0C709.0 714.8 707.6 718.6 706.9 720.4C706.3 722.1 703.8 725.8 703.2 727.7C702.7 729.7 702.7 735.6 702.3 737.0C701.9 738.4 702.0 738.6 699.5 739.7C697.1 740.8 685.6 744.8 681.1 746.2C676.6 747.6 663.2 751.1 660.8 751.7M652.5 718.2C653.7 717.9 660.7 715.5 662.7 715.8C664.6 716.0 668.3 719.2 669.1 720.4C670.0 721.6 670.6 723.1 670.0 725.9C669.5 728.7 665.6 741.3 664.5 744.3C663.4 747.3 662.1 748.5 660.8 751.7C659.5 754.9 655.4 767.3 653.5 772.0C651.5 776.7 645.3 789.9 644.2 792.3"/>
</g>
<g class="m">
<path d="M644.2 792.3L703.2 779.4"/>
</g>
<g class="t">
<path d="M703.2 779.4C705.1 778.1 711.2 775.4 714.3 772.0C717.4 768.6 719.2 764.3 721.7 759.1C724.1 753.9 726.6 747.4 729.0 740.6C731.5 733.9 734.3 724.1 736.4 718.5C738.6 713.0 739.2 710.5 741.9 707.5C744.7 704.4 749.0 702.5 753.0 700.1C757.0 697.6 761.9 695.8 765.9 692.7C769.9 689.6 773.9 685.3 777.0 681.7C780.0 678.0 781.0 673.7 784.3 670.6C787.7 667.5 795.1 664.5 797.2 663.2M655.3 770.1C660.8 768.9 681.1 765.8 688.5 762.8C695.9 759.7 695.9 756.0 699.5 751.7C703.2 747.4 707.2 741.6 710.6 737.0C714.0 732.4 716.7 728.4 719.8 724.1C722.9 719.8 725.0 715.1 729.0 711.2C733.0 707.2 738.2 703.8 743.8 700.1C749.3 696.4 757.0 693.0 762.2 689.0C767.4 685.0 772.0 679.8 775.1 676.1C778.2 672.4 779.7 668.4 780.6 666.9M680.6 539.9C680.6 541.7 680.5 547.4 680.7 550.8C681.0 554.1 681.0 555.4 682.0 560.0C683.0 564.6 684.3 571.7 686.6 578.4C688.9 585.2 691.9 592.9 695.9 600.6C699.8 608.2 705.4 617.8 710.6 624.5C715.8 631.3 722.1 636.8 727.2 641.1C732.3 645.4 738.7 648.8 741.0 650.3M600.0 579.4C603.1 579.4 612.6 579.7 618.4 579.4C624.3 579.0 632.3 577.8 635.0 577.5M600.0 606.1L624.0 602.4M600.0 650.3C601.5 649.4 605.2 646.5 609.2 644.8C613.2 643.1 616.4 642.0 624.0 640.2C631.5 638.3 649.3 634.8 654.4 633.7"/>
</g>
<g class="k">
<path d="M695.9 800.0L756.7 785.8"/>
</g>
<g class="w">
<path d="M719.8 772.0L758.2 736.0L779.7 745.3L782.1 748.9L776.0 754.5L777.9 761.8L764.1 772.0L753.0 779.4L745.6 784.0L737.3 783.0L729.0 777.5L722.6 776.6Z"/>
</g>
<g class="c">
<path d="M719.8 772.0L758.2 736.0L779.7 745.3L782.1 748.9L776.0 754.5L777.9 761.8L764.1 772.0M754.8 778.4L745.6 784.0L737.3 783.0L729.0 777.5L722.6 776.6L719.8 772.0"/>
</g>
<g class="t">
<path d="M724.4 773.8L760.4 741.6L779.7 749.9"/>
</g>
<g class="m">
<path d="M727.2 775.3L761.8 744.9L776.6 751.3"/>
</g>
<g class="k">
<path d="M732.7 778.4L762.2 749.9L775.1 755.4"/>
</g>
<g class="t">
<path d="M741.0 777.1L765.9 754.5M352.2 702.6L365.6 681.0L418.4 669.9"/>
</g>
<g class="m">
<path d="M418.4 669.9L570.1 634.9"/>
</g>
<g class="w">
<path d="M476.4 708.6L498.7 702.6L518.8 697.4L539.6 690.7L561.9 684.8L550.7 706.3L530.7 711.5L509.9 718.2L486.8 724.2Z"/>
</g>
<g class="k">
<path d="M476.4 708.6L486.8 724.2L509.1 719.0L518.8 697.4M486.8 724.2L498.7 702.6M509.9 718.2L522.5 695.2L539.6 690.7L527.7 713.0Z"/>
</g>
<g class="t">
<path d="M512.1 717.5L524.3 696.4"/>
</g>
<g class="k">
<path d="M530.7 711.5L541.8 690.7L561.9 684.8L550.7 706.3Z"/>
</g>
<g class="t">
<path d="M532.9 710.8L543.6 691.0"/>
</g>
<g class="w">
<path d="M544.1 651.3L564.9 646.1L574.5 661.0L562.3 683.6L541.5 688.8L553.7 666.2Z"/>
</g>
<g class="k">
<path d="M544.1 651.3L564.9 646.1L574.5 661.0L553.7 666.2ZM553.7 666.2L541.5 688.8L562.3 683.6L574.5 661.0"/>
</g>
<g class="w">
<path d="M523.2 655.8L541.8 651.3L551.5 666.2L539.3 688.8L520.7 693.2L532.9 670.6Z"/>
</g>
<g class="k">
<path d="M523.2 655.8L541.8 651.3L551.5 666.2L532.9 670.6ZM532.9 670.6L520.7 693.2L539.3 688.8L551.5 666.2"/>
</g>
<g class="w">
<path d="M500.2 660.2L521.0 655.0L530.7 669.9L518.5 692.5L497.7 697.7L509.9 675.1Z"/>
</g>
<g class="k">
<path d="M500.2 660.2L521.0 655.0L530.7 669.9L509.9 675.1ZM509.9 675.1L497.7 697.7L518.5 692.5L530.7 669.9"/>
</g>
<g class="w">
<path d="M474.9 667.7L495.0 661.7L504.6 676.6L492.5 699.2L472.4 705.1L484.6 682.5Z"/>
</g>
<g class="k">
<path d="M474.9 667.7L495.0 661.7L504.6 676.6L484.6 682.5ZM484.6 682.5L472.4 705.1L492.5 699.2L504.6 676.6"/>
</g>
<g class="w">
<path d="M451.9 673.6L473.4 667.7L483.1 682.5L470.9 705.1L449.3 711.1L461.5 688.5Z"/>
</g>
<g class="k">
<path d="M451.9 673.6L473.4 667.7L483.1 682.5L461.5 688.5ZM461.5 688.5L449.3 711.1L470.9 705.1L483.1 682.5"/>
</g>
<g class="w">
<path d="M426.6 677.3L446.7 672.1L456.3 687.0L444.1 709.6L424.1 714.8L436.2 692.2Z"/>
</g>
<g class="k">
<path d="M426.6 677.3L446.7 672.1L456.3 687.0L436.2 692.2ZM436.2 692.2L424.1 714.8L444.1 709.6L456.3 687.0"/>
</g>
<g class="w">
<path d="M401.3 683.6L425.8 677.6L435.5 692.5L423.3 715.1L398.8 721.0L411.0 698.4Z"/>
</g>
<g class="k">
<path d="M401.3 683.6L425.8 677.6L435.5 692.5L411.0 698.4ZM411.0 698.4L398.8 721.0L423.3 715.1L435.5 692.5"/>
</g>
<g class="w">
<path d="M372.3 690.7L399.8 684.0L409.5 698.9L397.3 721.5L369.8 728.2L360.1 713.3Z"/>
</g>
<g class="k">
<path d="M372.3 690.7L399.8 684.0L409.5 698.9L382.0 705.6ZM382.0 705.6L369.8 728.2L397.3 721.5L409.5 698.9M372.3 690.7L360.1 713.3L369.8 728.2"/>
</g>
<g class="t">
<path d="M428.8 678.8L438.8 694.0L426.6 716.3M477.1 668.7L487.1 683.3L473.4 703.3M525.5 656.8L534.4 671.1L521.7 693.7M546.3 652.3L557.9 666.6L543.3 688.6"/>
</g>
<g class="b">
<path d="M399.1 683.3L402.0 690.7M426.6 677.3L433.3 675.7M442.2 673.5L447.4 672.1L456.3 687.3L445.2 710.8L423.6 716.0M474.9 665.7L479.7 664.5M489.8 662.5L496.5 661.0L506.9 675.1L495.0 697.8M469.7 702.9L495.0 698.1L518.0 693.7M500.2 659.5L507.6 658.0M515.1 656.5L521.0 655.0L530.7 669.9L518.8 693.4M561.9 682.5L565.6 686.2L551.5 709.3L543.3 710.8M534.4 711.8L530.2 712.6"/>
</g>
<g class="k">
<path d="M564.9 646.1L573.8 633.5L555.2 605.9M573.8 633.5L575.3 660.2M327.4 780.0C326.1 792.5 322.0 837.4 319.9 854.9C317.8 872.4 317.2 870.3 314.9 884.9C312.6 899.4 308.6 924.4 306.1 942.3C303.6 960.2 300.7 977.7 299.9 992.2C299.1 1006.8 299.9 1017.2 301.1 1029.7C302.4 1042.2 304.4 1053.4 307.4 1067.1C310.4 1080.9 317.4 1104.6 319.4 1112.1M353.6 889.9C352.5 896.5 349.0 914.8 347.3 929.8C345.7 944.8 343.8 963.9 343.6 979.8C343.4 995.6 344.6 1011.0 346.1 1024.7C347.5 1038.4 348.8 1047.9 352.3 1062.1C355.9 1076.4 364.8 1102.1 367.3 1110.1M314.9 884.9C316.9 885.2 328.3 886.8 332.4 887.4C336.4 887.9 345.5 889.5 349.8 889.4C354.2 889.2 361.7 888.0 369.8 886.1C378.0 884.3 405.2 877.4 419.8 873.6C434.3 869.8 477.2 858.3 494.7 853.7C512.1 849.0 554.6 837.8 569.6 833.7C584.5 829.6 616.8 820.4 623.0 818.7M353.6 902.3C357.8 902.2 382.1 902.3 389.8 901.1C397.5 899.9 413.3 894.5 419.8 892.4C426.2 890.2 438.9 884.3 444.7 882.4C450.5 880.5 460.9 878.3 469.7 876.1C478.4 873.9 508.0 866.6 519.6 863.6C531.3 860.7 560.8 853.3 569.6 851.2C578.3 849.0 588.3 846.5 594.5 844.9C600.8 843.3 619.7 838.5 623.0 837.7"/>
</g>
<g class="t">
<path d="M384.8 780.0L346.1 888.6"/>
</g>
<g class="k">
<path d="M439.7 886.1C442.6 890.1 452.2 903.4 457.2 909.8C462.2 916.3 465.5 919.8 469.7 924.8C473.8 929.8 480.1 937.3 482.2 939.8M470.9 876.1C474.1 880.1 484.5 893.0 489.7 899.9C494.9 906.7 498.8 911.9 502.1 917.3C505.5 922.7 508.4 929.8 509.6 932.3"/>
</g>
<g class="t">
<path d="M449.7 878.6C452.2 877.2 459.7 872.0 464.7 869.9C469.7 867.8 477.2 866.8 479.7 866.1"/>
</g>
<g class="k">
<path d="M479.5 955.8Q475.2 946.8 484.7 943.6L546.8 923.0Q556.3 919.8 560.0 929.1L572.6 961.0Q576.3 970.3 567.0 974.0L510.2 996.5Q500.9 1000.2 496.6 991.2ZM600.0 901.8C601.6 901.3 606.7 900.8 609.2 900.5C611.6 900.2 616.2 899.5 618.3 899.8C620.4 900.2 622.2 900.4 624.8 903.1C627.4 905.8 634.1 914.9 637.9 920.1C641.7 925.3 649.9 937.0 653.6 942.3C657.2 947.5 663.5 956.1 665.3 959.2C667.1 962.4 667.4 964.2 667.3 965.8C667.1 967.3 665.8 969.3 664.0 971.0C662.2 972.7 656.2 977.0 653.6 978.8C650.9 980.7 646.3 984.2 644.4 984.7C642.5 985.2 641.5 985.3 639.2 982.7C636.9 980.2 631.1 971.2 627.4 965.8C623.8 960.4 615.5 947.8 611.8 942.3C608.0 936.7 601.4 927.1 599.4 924.0C597.4 920.9 597.3 920.7 596.8 918.8C596.2 916.9 595.4 911.5 595.5 909.6C595.5 907.7 596.8 905.5 597.4 904.4C598.0 903.4 598.5 902.3 600.0 901.8ZM589.6 846.3C590.3 846.9 595.1 849.3 596.1 850.9C597.1 852.5 597.8 856.4 598.1 860.0C598.3 863.7 598.0 878.1 598.1 882.2C598.2 886.3 598.7 893.0 599.0 895.3C599.2 897.6 600.1 901.0 600.3 901.8M598.1 845.0C598.8 845.7 603.0 849.1 603.9 850.9C604.9 852.6 605.7 856.4 605.9 860.0C606.1 863.7 605.7 878.1 605.9 882.2C606.1 886.3 606.9 893.1 607.2 895.3C607.5 897.4 608.4 899.9 608.5 900.5M346.1 1023.4C347.7 1022.7 367.7 1013.3 369.8 1012.7C371.9 1012.1 376.3 1013.8 377.3 1014.7C378.3 1015.6 381.0 1020.0 384.8 1025.9C388.5 1031.9 430.2 1098.2 433.5 1103.3M327.8 653.3L241.2 793.7L271.2 833.7L287.4 829.9M302.4 826.2L319.9 822.4M329.9 820.0L359.8 812.5M369.8 810.0L409.8 801.2M417.3 798.7L434.7 795.0"/>
</g>
<g class="t">
<path d="M271.2 833.7L304.9 780.0M304.9 805.0L322.4 802.5"/>
</g>
<g class="b">
<path d="M281.2 780.0L275.4 788.7L283.7 800.0M331.1 793.7L336.1 800.0L331.1 810.0M294.9 806.2L302.4 812.5L321.1 808.7"/>
</g>
<g class="t">
<path d="M304.3 779.7L329.0 743.2L333.5 733.8"/>
</g>
<g class="b">
<path d="M301.8 771.7L283.9 776.5L276.5 787.1M314.7 772.5L324.1 787.6"/>
</g>
<g class="k">
<path d="M623.0 818.7C629.2 817.1 686.6 802.7 697.9 800.0C709.2 797.3 754.0 787.4 759.1 786.2M623.0 837.7C631.3 835.6 657.1 829.0 672.9 825.2C688.8 821.4 707.5 817.5 717.9 815.0C728.3 812.4 730.4 812.0 735.4 810.0C740.4 807.9 744.5 805.4 747.8 802.5C751.2 799.6 753.5 795.2 755.3 792.5C757.2 789.8 758.5 787.3 759.1 786.2"/>
</g>
<g class="t">
<path d="M650.5 780.0C649.9 780.6 644.6 786.5 644.2 787.5C643.8 788.5 641.0 792.9 645.5 792.5C649.9 792.1 693.5 783.3 697.9 782.5"/>
</g>
<g class="m">
<path d="M717.9 815.0C717.9 817.5 717.5 823.3 717.9 829.9C718.3 836.6 720.2 847.4 720.4 854.9C720.6 862.4 719.3 871.6 719.1 874.9"/>
</g>
<g class="t">
<path d="M719.1 874.9C719.8 877.1 723.2 893.4 725.4 897.4C727.5 901.3 736.6 912.3 740.4 914.8C744.1 917.3 751.1 919.1 762.8 922.3C774.6 925.6 848.2 944.8 857.7 947.3"/>
</g>
<g class="k">
<path d="M1026.0 872.4C1012.2 878.5 945.1 908.3 922.6 918.6C900.2 928.9 868.4 944.6 857.7 949.8C847.1 954.9 846.4 955.6 842.7 957.3C839.1 958.9 834.2 960.3 830.2 962.3C826.2 964.3 816.8 968.9 812.8 972.3C808.8 975.6 802.6 982.9 800.3 987.2C797.9 991.6 796.0 999.7 795.3 1004.7C794.6 1009.7 794.6 1018.0 795.3 1024.7C796.0 1031.4 798.6 1047.3 800.3 1054.7C801.9 1062.0 805.9 1074.3 807.8 1079.6C809.6 1085.0 813.2 1092.6 814.0 1094.6M877.7 779.5C878.7 780.1 884.3 783.4 890.2 787.0C896.0 790.6 938.6 817.4 947.6 822.4C956.5 827.5 992.1 844.8 997.5 847.4C1002.9 850.0 1010.1 852.9 1012.5 853.7C1014.9 854.4 1024.9 855.9 1026.0 856.2"/>
</g>
<g class="t">
<path d="M882.7 786.2C888.1 789.6 938.0 820.8 947.6 826.2C957.2 831.6 992.1 848.6 997.5 851.2C1002.9 853.7 1010.1 856.2 1012.5 856.9C1014.9 857.6 1024.9 859.2 1026.0 859.4M995.0 780.0L996.3 808.7L955.1 823.7"/>
</g>
<g class="k">
<path d="M1026.0 872.4C1036.0 868.7 1080.9 851.1 1100.9 844.9C1120.9 838.8 1158.3 830.0 1175.8 826.2C1193.3 822.4 1224.5 817.5 1232.0 816.2M1026.0 855.7C1028.9 855.3 1038.1 855.0 1043.5 853.7C1048.9 852.3 1053.0 851.4 1058.5 847.4C1063.9 843.5 1070.1 834.9 1075.9 829.9C1081.8 824.9 1087.2 820.8 1093.4 817.5C1099.7 814.1 1106.7 811.8 1113.4 810.0C1120.0 808.1 1127.1 807.0 1133.4 806.2C1139.6 805.5 1143.8 805.2 1150.8 805.5C1157.9 805.8 1167.5 806.8 1175.8 808.0C1184.1 809.1 1193.3 810.9 1200.8 812.5C1208.3 814.0 1217.4 816.6 1220.8 817.5"/>
</g>
<g class="t">
<path d="M1026.0 858.7C1028.5 858.4 1036.0 858.4 1041.0 857.4C1046.0 856.4 1053.5 853.2 1056.0 852.4M1120.9 839.9C1118.4 838.5 1109.2 834.1 1105.9 831.2C1102.6 828.3 1100.9 825.2 1100.9 822.4C1100.9 819.7 1102.6 816.8 1105.9 815.0C1109.2 813.1 1116.3 812.1 1120.9 811.2C1125.5 810.3 1131.3 809.8 1133.4 809.5M1150.8 809.5C1155.0 810.2 1166.7 812.0 1175.8 813.7C1185.0 815.5 1200.8 818.9 1205.8 820.0"/>
</g>
<g class="k">
<path d="M1119.6 775.0C1120.0 776.1 1122.4 784.2 1123.4 786.0C1124.4 787.7 1128.7 790.6 1129.6 792.5C1130.5 794.4 1131.7 802.5 1132.1 805.0C1132.5 807.4 1133.7 815.8 1133.9 817.0M1133.9 817.0C1135.4 816.7 1139.9 815.6 1143.4 815.7C1146.8 815.8 1152.7 817.2 1154.6 817.5M1153.8 775.0C1153.7 776.1 1153.5 784.4 1152.8 786.0C1152.2 787.5 1147.6 788.6 1147.1 790.5C1146.6 792.4 1147.5 802.4 1147.8 805.0C1148.1 807.5 1149.9 815.1 1150.1 816.2M1240.7 780.0C1239.5 782.1 1234.8 786.5 1233.2 792.5C1231.7 798.5 1231.6 812.3 1231.2 816.2"/>
</g>
<g class="l">
<path d="M171.0 190.0L427.5 657.8"/>
</g>
<g class="a">
<path d="M436.2 673.6L423.6 660.0L431.5 655.7Z"/>
</g>
<g class="l">
<path d="M638.0 60.0L491.2 645.7"/>
</g>
<g class="a">
<path d="M486.8 663.2L486.8 644.6L495.5 646.8Z"/>
</g>
<g class="l">
<path d="M739.0 140.0L520.0 640.7"/>
</g>
<g class="a">
<path d="M512.8 657.2L515.9 638.9L524.1 642.5Z"/>
</g>
<g class="l">
<path d="M146.0 1160.0L293.2 830.8"/>
</g>
<g class="a">
<path d="M300.5 814.4L297.3 832.7L289.0 829.0Z"/>
</g>
<g class="l">
<path d="M655.0 1180.0L539.6 730.4"/>
</g>
<g class="a">
<path d="M535.1 713.0L543.9 729.3L535.2 731.6Z"/>
</g>
<g class="l">
<path d="M972.0 1155.0L770.2 789.8"/>
</g>
<g class="a">
<path d="M761.5 774.0L774.1 787.6L766.3 791.9Z"/>
</g>

</svg>
</body></html>
